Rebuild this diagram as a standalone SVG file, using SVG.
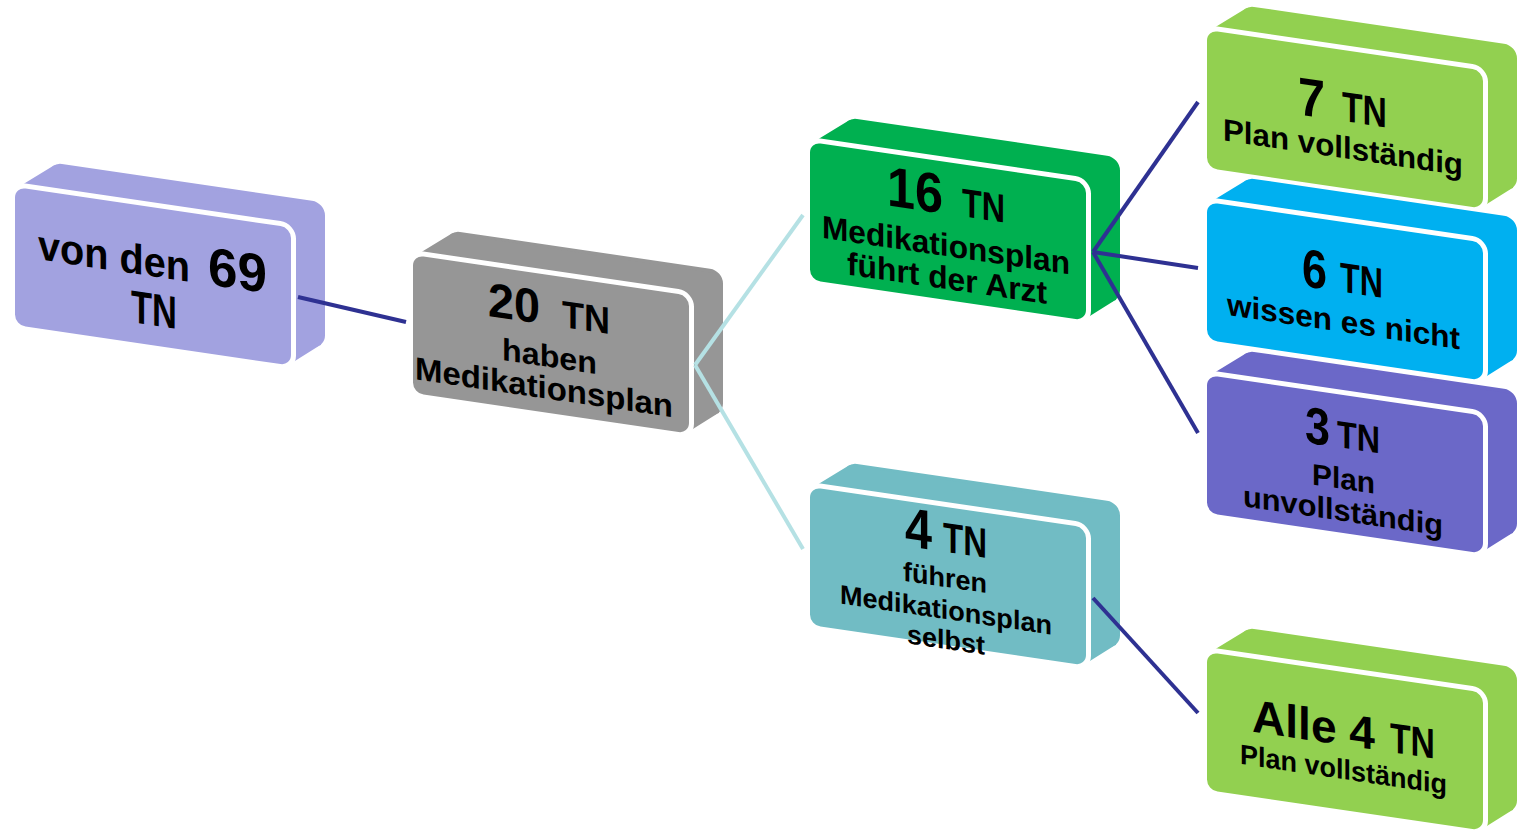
<svg xmlns="http://www.w3.org/2000/svg" width="1519" height="836" viewBox="0 0 1519 836">
<style>
.back,.ext{stroke:none}
.front{stroke:#ffffff;stroke-width:5}
.t{font-family:"Liberation Sans",Arial,sans-serif;font-weight:bold;fill:#000000}
.dark{stroke:#2e3192;stroke-width:4;fill:none}
.light{stroke:#b5e1e4;stroke-width:4;fill:none}
.ca{fill:#a2a2e0}.cb{fill:#969696}.cc{fill:#00b050}.cd{fill:#92d050}.ce{fill:#00b0f0}.cf{fill:#6b68c8}.cg{fill:#71bcc4}
</style>
<defs>
<g id="box">
  <rect class="back" x="34" y="-30" width="276" height="146" rx="13"/>
  <polygon class="ext" points="2.7,0.1 39.2,-27.4 306,-26 306,113 305,113.3 273.5,137.8"/>
  <rect class="front" x="-2.5" y="-2.5" width="281" height="143" rx="13"/>
</g>
</defs>

<g id="node-a" class="ca" transform="translate(15,187) skewY(8.37)">
  <use href="#box"/>
  <text class="t" x="23" y="69" font-size="42" textLength="152" lengthAdjust="spacingAndGlyphs">von den</text>
  <text class="t" x="193" y="69" font-size="54" textLength="59" lengthAdjust="spacingAndGlyphs">69</text>
  <text class="t" x="116" y="118" font-size="46" textLength="46" lengthAdjust="spacingAndGlyphs">TN</text>
</g>

<g id="node-b" class="cb" transform="translate(413,255) skewY(8.37)">
  <use href="#box"/>
  <text class="t" x="75" y="50" font-size="48" textLength="52" lengthAdjust="spacingAndGlyphs">20</text>
  <text class="t" x="149" y="50" font-size="38" textLength="48" lengthAdjust="spacingAndGlyphs">TN</text>
  <text class="t" x="89" y="92" font-size="31" textLength="95" lengthAdjust="spacingAndGlyphs">haben</text>
  <text class="t" x="2" y="124" font-size="32" textLength="258" lengthAdjust="spacingAndGlyphs">Medikationsplan</text>
</g>

<g id="node-c" class="cc" transform="translate(810,142) skewY(8.37)">
  <use href="#box"/>
  <text class="t" x="77" y="52" font-size="56" textLength="56" lengthAdjust="spacingAndGlyphs">16</text>
  <text class="t" x="152" y="52" font-size="40" textLength="43" lengthAdjust="spacingAndGlyphs">TN</text>
  <text class="t" x="12" y="94" font-size="32" textLength="248" lengthAdjust="spacingAndGlyphs">Medikationsplan</text>
  <text class="t" x="37" y="127" font-size="32" textLength="200" lengthAdjust="spacingAndGlyphs">führt der Arzt</text>
</g>

<g id="node-d" class="cd" transform="translate(1207,30) skewY(8.37)">
  <use href="#box"/>
  <text class="t" x="91" y="71" font-size="54" textLength="27" lengthAdjust="spacingAndGlyphs">7</text>
  <text class="t" x="135" y="71" font-size="42" textLength="45" lengthAdjust="spacingAndGlyphs">TN</text>
  <text class="t" x="16" y="108" font-size="31" textLength="240" lengthAdjust="spacingAndGlyphs">Plan vollständig</text>
</g>

<g id="node-e" class="ce" transform="translate(1207,202) skewY(8.37)">
  <use href="#box"/>
  <text class="t" x="95" y="70" font-size="54" textLength="25" lengthAdjust="spacingAndGlyphs">6</text>
  <text class="t" x="133" y="70" font-size="42" textLength="43" lengthAdjust="spacingAndGlyphs">TN</text>
  <text class="t" x="20" y="110" font-size="31" textLength="233" lengthAdjust="spacingAndGlyphs">wissen es nicht</text>
</g>

<g id="node-f" class="cf" transform="translate(1207,375) skewY(8.37)">
  <use href="#box"/>
  <text class="t" x="98" y="53" font-size="52" textLength="25" lengthAdjust="spacingAndGlyphs">3</text>
  <text class="t" x="130" y="53" font-size="38" textLength="43" lengthAdjust="spacingAndGlyphs">TN</text>
  <text class="t" x="105" y="94" font-size="30" textLength="63" lengthAdjust="spacingAndGlyphs">Plan</text>
  <text class="t" x="36" y="126" font-size="30" textLength="200" lengthAdjust="spacingAndGlyphs">unvollständig</text>
</g>

<g id="node-g" class="cg" transform="translate(810,487) skewY(8.37)">
  <use href="#box"/>
  <text class="t" x="95" y="45" font-size="56" textLength="27" lengthAdjust="spacingAndGlyphs">4</text>
  <text class="t" x="133" y="45" font-size="42" textLength="44" lengthAdjust="spacingAndGlyphs">TN</text>
  <text class="t" x="93" y="80" font-size="27" textLength="84" lengthAdjust="spacingAndGlyphs">führen</text>
  <text class="t" x="30" y="112" font-size="27" textLength="212" lengthAdjust="spacingAndGlyphs">Medikationsplan</text>
  <text class="t" x="97" y="142" font-size="27" textLength="78" lengthAdjust="spacingAndGlyphs">selbst</text>
</g>

<g id="node-h" class="cd" transform="translate(1207,652) skewY(8.37)">
  <use href="#box"/>
  <text class="t" x="45" y="73" font-size="46" textLength="123" lengthAdjust="spacingAndGlyphs">Alle 4</text>
  <text class="t" x="183" y="73" font-size="42" textLength="45" lengthAdjust="spacingAndGlyphs">TN</text>
  <text class="t" x="33" y="107" font-size="28" textLength="207" lengthAdjust="spacingAndGlyphs">Plan vollständig</text>
</g>

<g id="connectors">
  <path class="dark" d="M298,297 L406,322"/>
  <path class="light" d="M695,365 L803,215"/>
  <path class="light" d="M695,365 L803,549"/>
  <path class="dark" d="M1093,252 L1198,102"/>
  <path class="dark" d="M1093,252 L1198,268"/>
  <path class="dark" d="M1093,252 L1198,433"/>
  <path class="dark" d="M1093,598 L1198,713"/>
</g>
</svg>
